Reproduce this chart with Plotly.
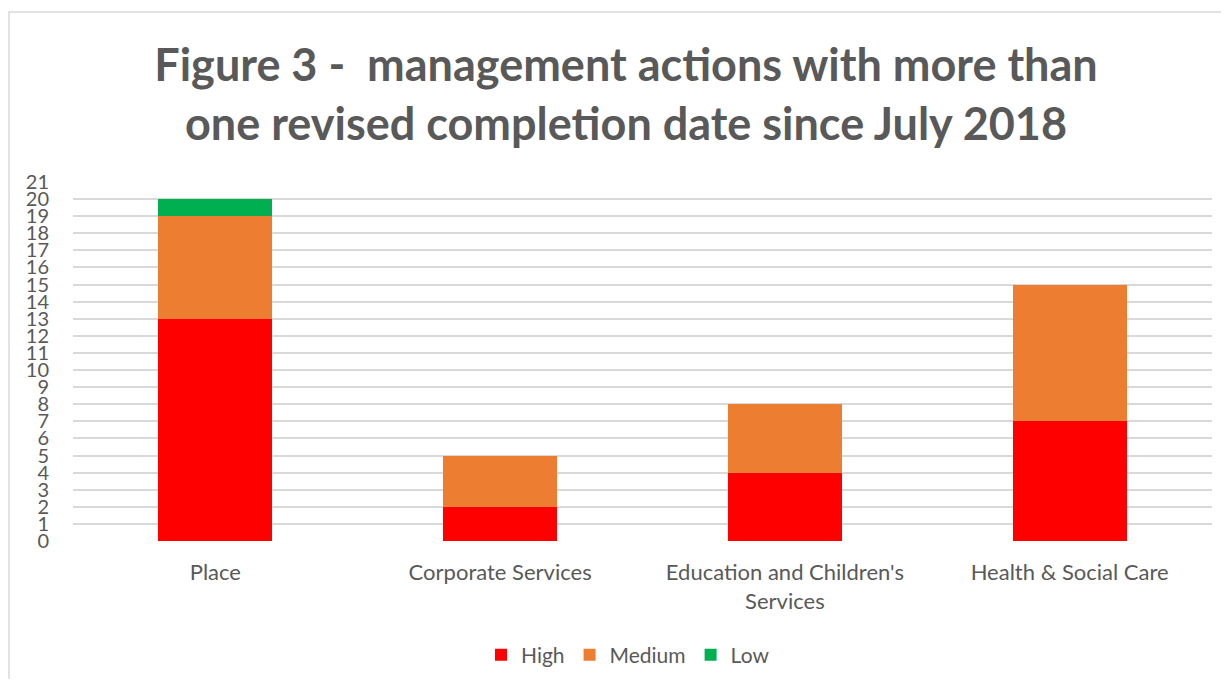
import plotly.graph_objects as go

categories = ["Place", "Corporate Services", "Education and Children's<br>Services", "Health & Social Care"]
high = [13, 2, 4, 7]
medium = [6, 3, 4, 8]
low = [1, 0, 0, 0]
y_ticks = list(range(0, 22))

# page has an 8px body margin; figure coordinates = screen - 8
OFF = 8
W, H = 1229 - 2 * OFF, 687 - 2 * OFF
L, R, T, B = 73 - OFF, W - (1212 - OFF), 182 - OFF, H - (541 - OFF)
pw, ph = W - L - R, H - T - B

FONT = "Lato, 'Open Sans', sans-serif"
GREY = "#595959"

fig = go.Figure()
fig.add_trace(go.Bar(name="High", x=categories, y=high, marker=dict(color="#FF0000", line=dict(width=0))))
fig.add_trace(go.Bar(name="Medium", x=categories, y=medium, marker=dict(color="#ED7D31", line=dict(width=0))))
fig.add_trace(go.Bar(name="Low", x=categories, y=low, marker=dict(color="#00B050", line=dict(width=0))))

# outer chart border (left and top edges visible)
bx, by = 9 - OFF, 12 - OFF
fig.add_shape(type="rect", xref="paper", yref="paper",
              x0=(bx - L) / pw, x1=(W + 40 - L) / pw,
              y0=-(H + 40 - (H - B)) / ph, y1=((H - B) - by) / ph,
              line=dict(color="#D9D9D9", width=1.5), fillcolor="rgba(0,0,0,0)", layer="below")

legend_cx = 628 - OFF
legend_cy = 655 - OFF

fig.update_layout(
    width=W, height=H,
    margin=dict(l=L, r=R, t=T, b=B, autoexpand=False),
    barmode="stack", bargap=0.6,
    paper_bgcolor="white", plot_bgcolor="white",
    title=dict(text="<b>Figure 3 -  management actions with more than<br>one revised completion date since July 2018</b>",
               x=(626 - OFF) / W, xanchor="center", y=1 - (81 - OFF) / H, yanchor="middle",
               font=dict(family=FONT, size=45, color=GREY)),
    font=dict(family=FONT, color=GREY),
    showlegend=True,
    legend=dict(orientation="h", x=(legend_cx - L) / pw, xanchor="center",
                y=-(legend_cy - (H - B)) / ph, yanchor="middle",
                font=dict(size=21, color=GREY), traceorder="normal", itemwidth=30),
    xaxis=dict(showgrid=False, showline=False, ticks="", tickfont=dict(size=22, color=GREY),
               ticklabelstandoff=16, automargin=False),
    yaxis=dict(range=[0, 21], tickvals=y_ticks, showgrid=True, gridcolor="#D9D9D9", gridwidth=1.5,
               zeroline=False, showline=False, ticks="", tickfont=dict(size=20, color=GREY),
               ticklabelstandoff=23, automargin=False),
)

fig.write_html("out.html")
